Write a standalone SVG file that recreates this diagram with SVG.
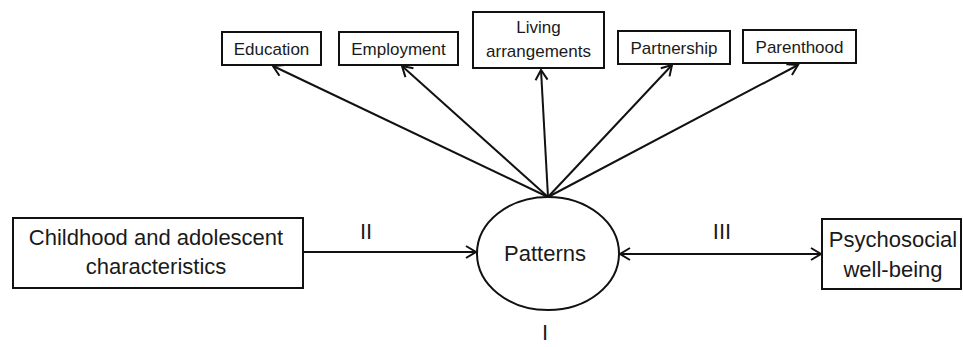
<svg xmlns="http://www.w3.org/2000/svg" width="963" height="347" viewBox="0 0 963 347">
<style>
.box{fill:#fff;stroke:#111;stroke-width:2}
.t{font-family:"Liberation Sans",Arial,sans-serif;fill:#1a1a1a;text-anchor:middle}
.s{font-size:17px}
.b{font-size:22px}
.c{stroke:#111;stroke-width:2;fill:none}
</style>
<defs>
<marker id="ah" markerUnits="userSpaceOnUse" markerWidth="24" markerHeight="24" refX="0" refY="0" viewBox="-12 -12 24 24" orient="auto-start-reverse">
<path d="M -10 -6 L 0 0 L -10 6" fill="none" stroke="#111" stroke-width="2"/>
</marker>
</defs>
<rect width="963" height="347" fill="#fff"/>
<g id="connectors">
<line class="c" x1="548" y1="197" x2="273" y2="66" marker-end="url(#ah)"/>
<line class="c" x1="548" y1="197" x2="402" y2="66" marker-end="url(#ah)"/>
<line class="c" x1="548" y1="197" x2="541" y2="70" marker-end="url(#ah)"/>
<line class="c" x1="548" y1="197" x2="672" y2="65" marker-end="url(#ah)"/>
<line class="c" x1="548" y1="197" x2="798" y2="65" marker-end="url(#ah)"/>
<line class="c" x1="303" y1="252" x2="476" y2="252" marker-end="url(#ah)"/>
<line class="c" x1="620" y1="254" x2="821" y2="254" marker-start="url(#ah)" marker-end="url(#ah)"/>
<text class="t b" x="366" y="239">II</text>
<text class="t b" x="722" y="239">III</text>
<text class="t b" x="545" y="340">I</text>
</g>
<g id="education">
<rect class="box" x="222" y="32" width="99" height="33"/>
<text class="t s" x="271.5" y="55">Education</text>
</g>
<g id="employment">
<rect class="box" x="339" y="32" width="119" height="33"/>
<text class="t s" x="398.5" y="55">Employment</text>
</g>
<g id="living">
<rect class="box" x="473" y="12" width="131" height="56"/>
<text class="t s" x="538.5" y="33">Living</text>
<text class="t s" x="538.5" y="57">arrangements</text>
</g>
<g id="partnership">
<rect class="box" x="618" y="31" width="112" height="33"/>
<text class="t s" x="674" y="54">Partnership</text>
</g>
<g id="parenthood">
<rect class="box" x="743" y="30" width="113" height="33"/>
<text class="t s" x="799.5" y="53">Parenthood</text>
</g>
<g id="childhood">
<rect class="box" x="13" y="218" width="290" height="70"/>
<text class="t b" x="156" y="245">Childhood and adolescent</text>
<text class="t b" x="156" y="274">characteristics</text>
</g>
<g id="patterns">
<ellipse class="box" cx="548" cy="253.5" rx="71" ry="56.5"/>
<text class="t b" x="545" y="261">Patterns</text>
</g>
<g id="psychosocial">
<rect class="box" x="822" y="219" width="139" height="70"/>
<text class="t b" x="893" y="247">Psychosocial</text>
<text class="t b" x="893" y="277">well-being</text>
</g>
</svg>
